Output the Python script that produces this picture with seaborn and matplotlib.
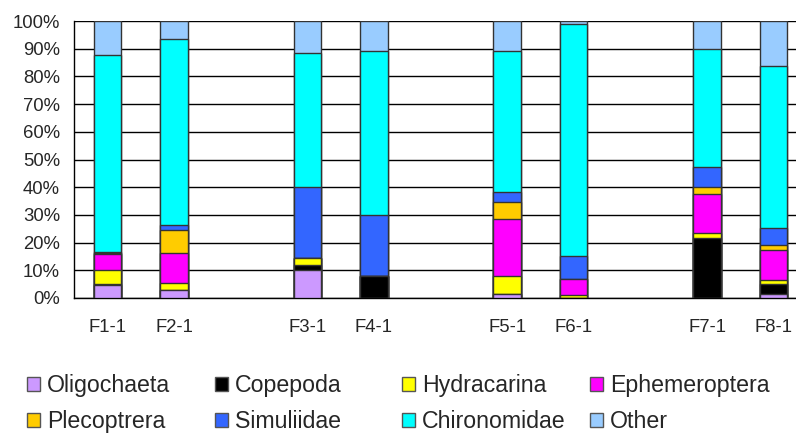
import numpy as np
import pandas as pd
import seaborn as sns
import matplotlib.pyplot as plt
from matplotlib.patches import Patch

# sites and their slot on the x axis (empty slots between pairs)
sites = ["F1-1", "F2-1", "F3-1", "F4-1", "F5-1", "F6-1", "F7-1", "F8-1"]
slots = [0, 1, 3, 4, 6, 7, 9, 10]

taxa = ["Oligochaeta", "Copepoda", "Hydracarina", "Ephemeroptera",
        "Plecoptrera", "Simuliidae", "Chironomidae", "Other"]
colors = ["#CC99FF", "#000000", "#FFFF00", "#FF00FF",
          "#FFCC00", "#3366FF", "#00FFFF", "#99CCFF"]

# percentages
oligochaeta = [4.6, 3.0, 10.2, 0.0, 1.6, 0.0, 0.0, 1.6]
copepoda = [0.6, 0.0, 1.8, 7.8, 0.0, 0.0, 21.8, 3.6]
hydracarina = [4.8, 2.4, 2.6, 0.0, 6.2, 1.2, 1.6, 1.2]
ephemeroptera = [6.0, 11.0, 0.0, 0.0, 20.7, 5.6, 14.1, 10.8]
plecoptrera = [0.3, 8.0, 0.0, 0.0, 6.3, 0.0, 2.4, 2.0]
simuliidae = [0.3, 1.8, 25.4, 22.0, 3.4, 8.2, 7.5, 6.0]
chironomidae = [71.0, 67.3, 48.5, 59.4, 51.0, 84.0, 42.6, 58.5]
other = [12.4, 6.5, 11.5, 10.8, 10.8, 1.0, 10.0, 16.3]

df = pd.DataFrame(
    [oligochaeta, copepoda, hydracarina, ephemeroptera,
     plecoptrera, simuliidae, chironomidae, other],
    index=taxa, columns=sites).T
df = df.div(df.sum(axis=1), axis=0) * 100
cum = df.cumsum(axis=1)
cum["slot"] = slots

sns.set_style("white")
plt.rcParams["font.family"] = ["Liberation Sans", "DejaVu Sans"]

fig = plt.figure(figsize=(7.96, 4.34), dpi=100)
ax = fig.add_axes([74 / 796, 136 / 434, 733 / 796, 277 / 434])

# draw from the top layer down so each shorter bar covers the one before
for taxon, col in reversed(list(zip(taxa, colors))):
    sns.barplot(data=cum, x="slot", y=taxon, native_scale=True, width=0.41,
                color=col, edgecolor="#333333", linewidth=1.0, saturation=1,
                ax=ax, zorder=3)

ax.set_xlim(-0.5, 10.5)
ax.set_ylim(0, 100)
ax.set_yticks(np.arange(0, 101, 10))
ax.set_yticklabels([f"{v}%" for v in range(0, 101, 10)], fontsize=13.3)
ax.set_xticks(slots)
ax.set_xticklabels(sites, fontsize=13.3)
ax.set_xticks(np.arange(-0.5, 10.6, 1), minor=True)
ax.tick_params(axis="x", which="major", length=0, pad=15)
ax.tick_params(axis="x", which="minor", length=5, width=1, color="black", direction="out")
ax.tick_params(axis="y", length=5, width=1, color="black", direction="out", pad=5)
ax.set_xlabel("")
ax.set_ylabel("")
ax.grid(axis="y", color="black", linewidth=1)
ax.set_axisbelow(True)
for side in ["top", "right"]:
    ax.spines[side].set_visible(False)
for side in ["left", "bottom"]:
    ax.spines[side].set_color("black")
    ax.spines[side].set_linewidth(1)

handles = [Patch(facecolor=c, edgecolor="#555555", linewidth=1) for c in colors]
col_x = [27, 215, 402, 590]
for j, x in enumerate(col_x):
    fig.legend(handles=[handles[j], handles[j + 4]], labels=[taxa[j], taxa[j + 4]],
               loc="upper left", bbox_to_anchor=(x / 796, 1 - 374 / 434),
               frameon=False, fontsize=16.7, handlelength=0.55, handleheight=0.55,
               handletextpad=0.3, labelspacing=0.55, borderpad=0, borderaxespad=0)

fig.savefig("out.png", dpi=100)
